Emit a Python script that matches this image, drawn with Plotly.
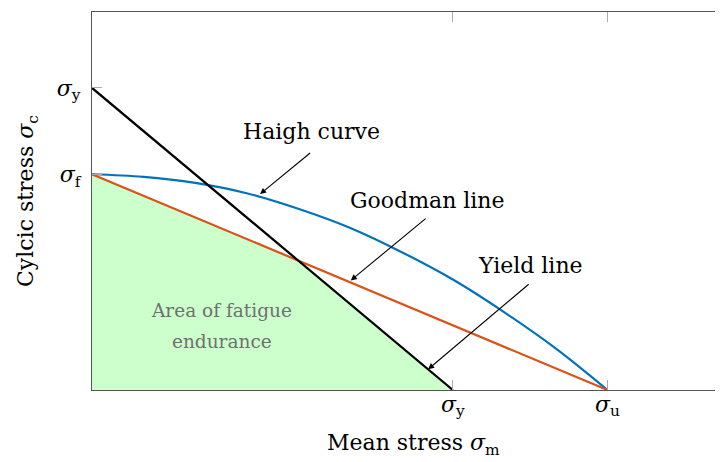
import plotly.graph_objects as go

# stress levels (arbitrary units)
sig_f = 250      # fatigue limit, on the cyclic-stress axis
sig_y = 350      # yield stress
sig_u = 500      # ultimate stress

# Haigh curve
haigh_m = [0, 50, 100, 150, 200, 250, 300, 350, 400, 450, 500]
haigh_c = [250, 247, 240, 228, 210, 188, 160, 128, 90, 48, 0]

goodman_m = [0, sig_u]
goodman_c = [sig_f, 0]

yield_m = [0, sig_y]
yield_c = [sig_y, 0]

x_ticks = [sig_y, sig_u]
x_labels = ['<i>σ</i><sub>y</sub>', '<i>σ</i><sub>u</sub>']
y_ticks = [sig_f, sig_y]
y_labels = ['<i>σ</i><sub>f</sub>', '<i>σ</i><sub>y</sub>']

C = {'blue': '#0072BD', 'orange': '#D95319', 'black': '#000000',
     'fill': '#CCFFCC', 'axis': '#555555', 'tick': '#AAAAAA', 'grey': '#707070'}
FONT = 'DejaVu Serif'

# corner where Goodman and yield lines cross
gs = (goodman_c[1] - goodman_c[0]) / (goodman_m[1] - goodman_m[0])
ys = (yield_c[1] - yield_c[0]) / (yield_m[1] - yield_m[0])
xm = (yield_c[0] - goodman_c[0]) / (gs - ys)
ym = goodman_c[0] + gs * xm

fig = go.Figure()
fig.add_trace(go.Scatter(
    x=[0, 0, xm, sig_y, 0], y=[0, sig_f, ym, 0, 0],
    fill='toself', fillcolor=C['fill'], mode='none',
    hoverinfo='skip', showlegend=False))
fig.add_trace(go.Scatter(x=haigh_m, y=haigh_c, mode='lines',
    line=dict(color=C['blue'], width=2.2, shape='spline'), showlegend=False))
fig.add_trace(go.Scatter(x=goodman_m, y=goodman_c, mode='lines',
    line=dict(color=C['orange'], width=2.2), showlegend=False))
fig.add_trace(go.Scatter(x=yield_m, y=yield_c, mode='lines',
    line=dict(color=C['black'], width=2.2), showlegend=False))

# labels with arrows
labels = [('Haigh curve', 213, 300, 213, 276, 163, 227),
          ('Goodman line', 325, 220, 325, 200, 251, 127),
          ('Yield line', 425, 144, 425, 124, 326, 24)]
for txt, tx, ty, ax, ay, hx, hy in labels:
    fig.add_annotation(x=tx, y=ty, text=txt, showarrow=False,
                       font=dict(family=FONT, size=22, color='black'))
    fig.add_annotation(x=hx, y=hy, ax=ax, ay=ay, axref='x', ayref='y',
                       xref='x', yref='y', text='', showarrow=True,
                       arrowhead=2, arrowsize=1.1, arrowwidth=1.1,
                       arrowcolor='black')

for txt, ty in [('Area of fatigue', 92), ('endurance', 56)]:
    fig.add_annotation(x=126, y=ty, text=txt, showarrow=False,
                       font=dict(family=FONT, size=18.5, color=C['grey']))

# axis titles
fig.add_annotation(x=0.509, y=-0.143, xref='paper', yref='paper',
                   xanchor='center', yanchor='middle',
                   text='Mean stress <i>σ</i><sub>m</sub>', showarrow=False,
                   font=dict(family=FONT, size=22, color='black'))
fig.add_annotation(x=-0.103, y=0.5, xref='paper', yref='paper',
                   xanchor='center', yanchor='middle',
                   text='Cylcic stress <i>σ</i><sub>c</sub>', showarrow=False,
                   textangle=-90,
                   font=dict(family=FONT, size=22, color='black'))

# the page body adds 8px on the top/left, so the figure is sized to fit
fig.update_layout(
    width=715, height=454,
    paper_bgcolor='white', plot_bgcolor='white',
    margin=dict(l=84, r=0, t=4, b=72),
    font=dict(family=FONT, size=22, color='black'),
    xaxis=dict(range=[0, 612], showgrid=False, zeroline=False,
               automargin=False,
               showline=True, linecolor=C['axis'], linewidth=1.3,
               mirror='ticks', ticks='inside', ticklen=10,
               tickcolor=C['tick'], tickwidth=1.2, ticklabelstandoff=-6,
               tickvals=x_ticks, ticktext=x_labels),
    yaxis=dict(range=[0, 438], showgrid=False, zeroline=False,
               automargin=False,
               showline=True, linecolor=C['axis'], linewidth=1.3,
               ticks='inside', ticklen=10,
               tickcolor=C['tick'], tickwidth=1.2, ticklabelstandoff=6,
               tickvals=y_ticks, ticktext=y_labels),
)

fig.write_html('out.html')
